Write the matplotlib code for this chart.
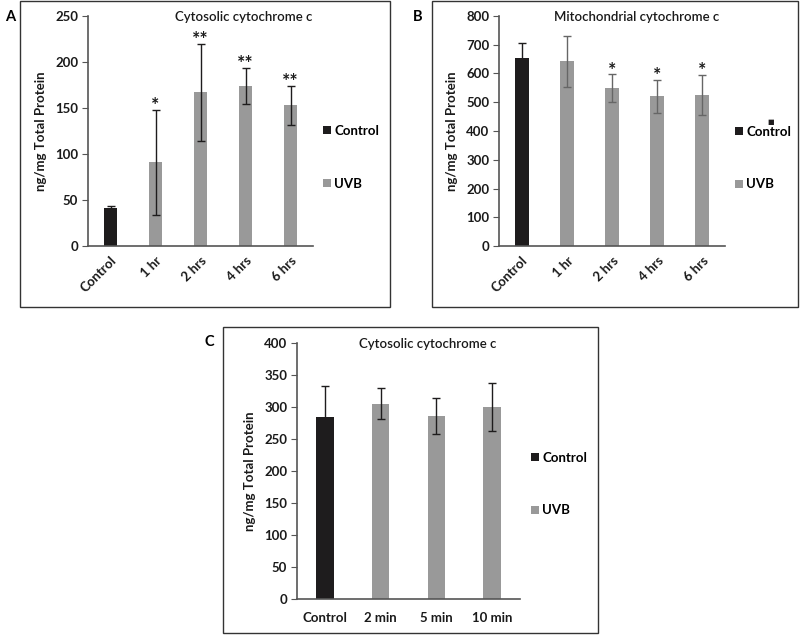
import matplotlib
matplotlib.use("Agg")
import matplotlib.pyplot as plt
from matplotlib.patches import Rectangle

plt.rcParams['font.family'] = ['Lato', 'DejaVu Sans']

W, H = 800, 635

# panel A - cytosolic, hours
a_labels = ['Control', '1 hr', '2 hrs', '4 hrs', '6 hrs']
a_values = [41, 91, 167, 174, 153]
a_errors = [2, 57, 53, 19.5, 21]
a_stars = ['', '*', '**', '**', '**']

# panel B - mitochondrial, hours
b_labels = ['Control', '1 hr', '2 hrs', '4 hrs', '6 hrs']
b_values = [655, 642, 549, 521, 524]
b_errors = [50, 88, 48, 58, 70]
b_stars = ['', '', '*', '*', '*']

# panel C - cytosolic, minutes
c_labels = ['Control', '2 min', '5 min', '10 min']
c_values = [285, 305, 286, 300]
c_errors = [48, 24, 28.5, 38]

dark = '#1e1c1d'
grey = '#999999'
txt = '#1a1a1a'
fs = 9.5

fig = plt.figure(figsize=(W / 100, H / 100), dpi=100)


def px_axes(x0, y0, x1, y1):
    # pixel box (top-left origin) -> figure axes
    return fig.add_axes([x0 / W, 1 - y1 / H, (x1 - x0) / W, (y1 - y0) / H])


def px_box(x0, y0, x1, y1):
    fig.patches.append(Rectangle((x0 / W, 1 - y1 / H), (x1 - x0) / W, (y1 - y0) / H,
                                 transform=fig.transFigure, fill=False,
                                 edgecolor='#333333', lw=1.0))


def panel(ax, labels, values, errors, stars, ymax, ystep, title, title_x, rotate, ecol_uvb, leg_xy):
    x = list(range(len(labels)))
    colors = [dark] + [grey] * (len(labels) - 1)
    bars = ax.bar(x, values, width=0.31, color=colors)
    for i in x:
        ax.errorbar(i, values[i], yerr=errors[i], fmt='none',
                    ecolor=dark if i == 0 else ecol_uvb, elinewidth=1.0,
                    capsize=3, capthick=1.0)
        if stars and stars[i]:
            ax.annotate(stars[i], (i, values[i] + errors[i]), xytext=(0, -3),
                        textcoords='offset points', ha='center', va='bottom',
                        fontsize=14, fontweight='bold', color=txt)
    ax.set_xlim(-0.5, len(labels) - 0.5)
    ax.set_ylim(0, ymax)
    yt = list(range(0, ymax + 1, ystep))
    ax.set_yticks(yt, [str(v) for v in yt], fontweight='bold', color=txt, fontsize=fs)
    for s in ['top', 'right']:
        ax.spines[s].set_visible(False)
    for s in ['left', 'bottom']:
        ax.spines[s].set_color('#555555')
        ax.spines[s].set_linewidth(1.2)
    ax.tick_params(axis='y', length=4, color='#555555', pad=3)
    if rotate:
        ax.tick_params(axis='x', length=0, pad=6)
        ax.set_xticks(x, labels, rotation=45, ha='right', rotation_mode='anchor',
                      fontweight='bold', color=txt, fontsize=fs)
    else:
        ax.tick_params(axis='x', length=0, pad=9)
        ax.set_xticks(x, labels, fontweight='bold', color=txt, fontsize=fs)
    ax.set_ylabel('ng/mg Total Protein', fontsize=fs, fontweight='bold', color=txt, labelpad=6)
    ax.text(title_x, 0.995, title, transform=ax.transAxes, ha='center', va='center',
            fontsize=fs, fontweight='semibold', color=txt)
    ax.legend([bars[0], bars[1]], ['Control', 'UVB'], loc='upper left',
              bbox_to_anchor=(leg_xy[0] / W, 1 - leg_xy[1] / H),
              bbox_transform=fig.transFigure, frameon=False, borderpad=0,
              handlelength=0.6, handleheight=0.6, handletextpad=0.3,
              labelspacing=3.1, prop={'weight': 'bold', 'size': fs})


axA = px_axes(88, 16, 313, 246)
panel(axA, a_labels, a_values, a_errors, a_stars, 250, 50,
      'Cytosolic cytochrome c', 0.69, True, dark, (316, 118))
px_box(20, 1, 390, 307)
fig.text(5 / W, 1 - 17 / H, 'A', fontsize=10.5, fontweight='bold', va='center')

axB = px_axes(499, 16, 725, 246)
panel(axB, b_labels, b_values, b_errors, b_stars, 800, 100,
      'Mitochondrial cytochrome c', 0.61, True, '#666666', (728, 119))
px_box(432, 1, 798, 307)
fig.text(413 / W, 1 - 17 / H, 'B', fontsize=10.5, fontweight='bold', va='center')
# stray marker above the legend text
fig.text(771 / W, 1 - 122 / H, '\u25a0', fontsize=5, color=dark, ha='center', va='center',
         family=['DejaVu Sans'])

axC = px_axes(297, 343, 520, 599)
panel(axC, c_labels, c_values, c_errors, None, 400, 50,
      'Cytosolic cytochrome c', 0.587, False, dark, (524, 445))
px_box(223, 327, 598, 633)
fig.text(205 / W, 1 - 342 / H, 'C', fontsize=10.5, fontweight='bold', va='center')

fig.savefig('out.png', dpi=100)
